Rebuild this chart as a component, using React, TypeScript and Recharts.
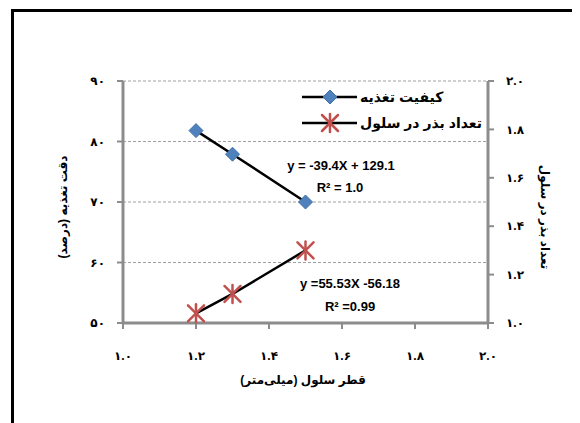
import React from 'react';
import { ComposedChart, Line, XAxis, YAxis, CartesianGrid } from 'recharts';

// cell diameter (mm)
const diameters = [1.2, 1.3, 1.5];
// feeding accuracy (%) - left axis
const feedingQuality = [81.8, 77.9, 70.0];
// seeds per cell - right axis
const seedsPerCell = [1.04, 1.12, 1.3];

const xTicks = [1.0, 1.2, 1.4, 1.6, 1.8, 2.0];
const leftTicks = [50, 60, 70, 80, 90];
const rightTicks = [1.0, 1.2, 1.4, 1.6, 1.8, 2.0];

const seriesNames = ['کیفیت تغذیه', 'تعداد بذر در سلول'];
const equations = ['y = -39.4X + 129.1', 'R² = 1.0', 'y =55.53X -56.18', 'R² =0.99'];

const BLUE = '#4F81BD';
const RED = '#C0504D';
const AXIS = '#8c8c8c';
const FONT = '"Liberation Sans", "DejaVu Sans", Arial, sans-serif';

const faDigits = '۰۱۲۳۴۵۶۷۸۹';
const toFa = (v: number, dec: number) =>
  v.toFixed(dec).replace(/\d/g, (d) => faDigits[Number(d)]);

const data = diameters.map((d, i) => ({
  x: d,
  quality: feedingQuality[i],
  seeds: seedsPerCell[i],
}));

const Diamond = (props: any) => {
  const { cx, cy } = props;
  if (cx == null || cy == null) return null;
  const s = 7;
  return (
    <polygon
      points={`${cx},${cy - s} ${cx + s},${cy} ${cx},${cy + s} ${cx - s},${cy}`}
      fill={BLUE}
      stroke="#3f6fa8"
      strokeWidth={1}
    />
  );
};

const Star = (props: any) => {
  const { cx, cy } = props;
  if (cx == null || cy == null) return null;
  const s = 8;
  return (
    <g stroke={RED} strokeWidth={2.5} strokeLinecap="round">
      <line x1={cx - s} y1={cy - s} x2={cx + s} y2={cy + s} />
      <line x1={cx - s} y1={cy + s} x2={cx + s} y2={cy - s} />
      <line x1={cx} y1={cy - s - 1} x2={cx} y2={cy + s + 1} />
    </g>
  );
};

const LegendBox = () => (
  <svg width={190} height={50} style={{ overflow: 'visible', display: 'block' }}>
    {seriesNames.map((name, i) => {
      const y = 10 + i * 26;
      return (
        <g key={name}>
          <line x1={0} y1={y} x2={55} y2={y} stroke="#000" strokeWidth={2.5} />
          {i === 0 ? <Diamond cx={28} cy={y} /> : <Star cx={28} cy={y} />}
          <text
            x={58}
            y={y}
            dy="0.35em"
            textAnchor="start"
            fontFamily={FONT}
            fontWeight="bold"
            fontSize={14}
            fill="#000"
          >
            {name}
          </text>
        </g>
      );
    })}
  </svg>
);

const textStyle: React.CSSProperties = {
  position: 'absolute',
  fontFamily: FONT,
  fontWeight: 'bold',
  fontSize: 13,
  color: '#000',
  whiteSpace: 'nowrap',
  transform: 'translate(-50%, -50%)',
};

const tickStyle = { fontFamily: FONT, fontWeight: 'bold' as const, fontSize: 12, fill: '#000' };

export default function App() {
  return (
    <div style={{ position: 'relative', width: 572, height: 415, overflow: 'hidden' }}>
      <div
        style={{
          position: 'absolute',
          left: 3,
          top: 1,
          width: 800,
          height: 800,
          borderTop: '3px solid #000',
          borderLeft: '3px solid #000',
        }}
      />
      <div style={{ position: 'absolute', left: 0, top: 0 }}>
        <ComposedChart
          width={572}
          height={415}
          data={data}
          margin={{ top: 73, right: 32, bottom: 70, left: 55 }}
        >
          <CartesianGrid
            yAxisId="left"
            horizontal={true}
            vertical={false}
            stroke="#a0a0a0"
            strokeDasharray="3 2"
          />
          <XAxis
            dataKey="x"
            type="number"
            domain={[1, 2]}
            ticks={xTicks}
            tickFormatter={(v: number) => toFa(v, 1)}
            height={30}
            tick={tickStyle}
            axisLine={{ stroke: AXIS, strokeWidth: 3 }}
            tickLine={{ stroke: AXIS, strokeWidth: 2 }}
            tickSize={6}
            tickMargin={22}
          />
          <YAxis
            yAxisId="left"
            domain={[50, 90]}
            ticks={leftTicks}
            tickFormatter={(v: number) => toFa(v, 0)}
            width={60}
            tick={tickStyle}
            axisLine={{ stroke: AXIS, strokeWidth: 3 }}
            tickLine={{ stroke: AXIS, strokeWidth: 2 }}
            tickSize={6}
            tickMargin={12}
          />
          <YAxis
            yAxisId="right"
            orientation="right"
            domain={[1, 2]}
            ticks={rightTicks}
            tickFormatter={(v: number) => toFa(v, 1)}
            width={60}
            tick={tickStyle}
            axisLine={{ stroke: AXIS, strokeWidth: 3 }}
            tickLine={{ stroke: AXIS, strokeWidth: 2 }}
            tickSize={6}
            tickMargin={12}
          />
          <Line
            yAxisId="left"
            dataKey="quality"
            name={seriesNames[0]}
            type="linear"
            stroke="#000"
            strokeWidth={2.5}
            dot={<Diamond />}
            isAnimationActive={false}
          />
          <Line
            yAxisId="right"
            dataKey="seeds"
            name={seriesNames[1]}
            type="linear"
            stroke="#000"
            strokeWidth={2.5}
            dot={<Star />}
            isAnimationActive={false}
          />
        </ComposedChart>
      </div>

      <div style={{ position: 'absolute', left: 294, top: 79 }}>
        <LegendBox />
      </div>

      <div style={{ ...textStyle, left: 333, top: 157 }}>{equations[0]}</div>
      <div style={{ ...textStyle, left: 332, top: 179 }}>{equations[1]}</div>
      <div style={{ ...textStyle, left: 342, top: 275 }}>{equations[2]}</div>
      <div style={{ ...textStyle, left: 342, top: 298 }}>{equations[3]}</div>

      <div dir="rtl" style={{ ...textStyle, fontSize: 12, left: 55, top: 199, transform: 'translate(-50%, -50%) rotate(-90deg)' }}>
        دقت تغذیه (درصد)
      </div>
      <div dir="rtl" style={{ ...textStyle, fontSize: 12, left: 537, top: 209, transform: 'translate(-50%, -50%) rotate(90deg)' }}>
        تعداد بذر در سلول
      </div>
      <div dir="rtl" style={{ ...textStyle, fontSize: 12, left: 295, top: 372 }}>قطر سلول (میلی‌متر)</div>
    </div>
  );
}
